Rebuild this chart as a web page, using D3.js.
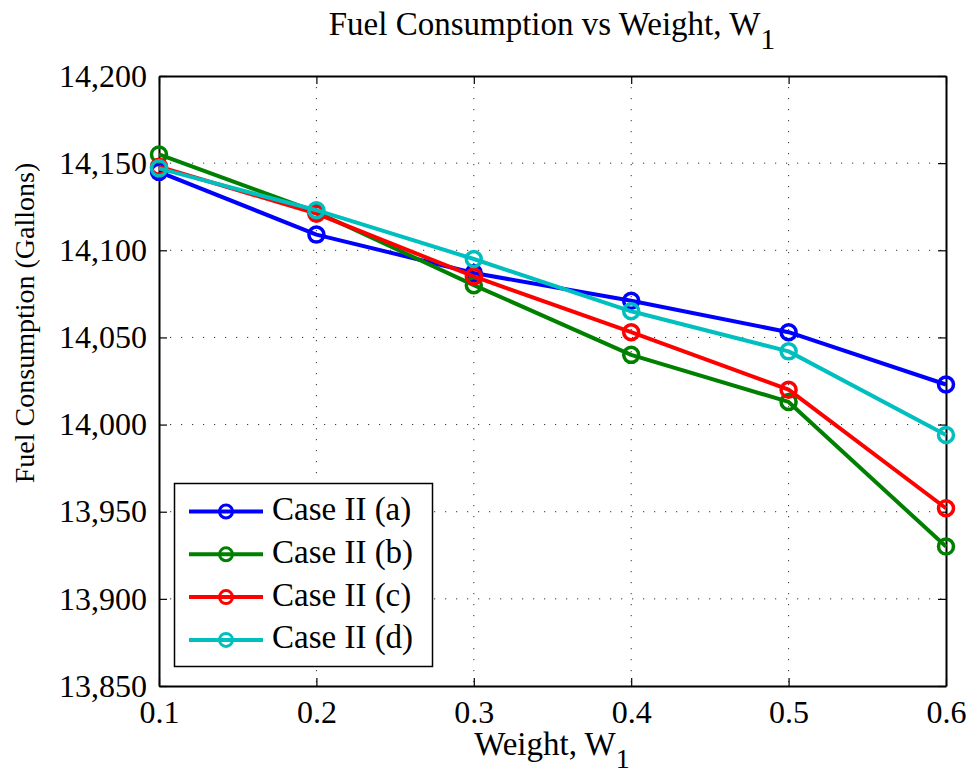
<!DOCTYPE html>
<html><head><meta charset="utf-8">
<script src="https://cdn.jsdelivr.net/npm/d3@7"></script>
<style>body{margin:0;background:#fff;} text{font-family:"Liberation Serif","Times New Roman",serif;fill:#000;}</style>
</head><body>
<svg id="c" width="972" height="775"></svg>
<script>
const weights = [0.1, 0.2, 0.3, 0.4, 0.5, 0.6];
const seriesNames = ["Case II (a)", "Case II (b)", "Case II (c)", "Case II (d)"];
const seriesColors = ["#0000ff", "#008000", "#ff0000", "#00bfbf"];
const caseA = [14145, 14109, 14087, 14071, 14053, 14023];
const caseB = [14155, 14122, 14080, 14040, 14013, 13930];
const caseC = [14148, 14121, 14085, 14053, 14020, 13952];
const caseD = [14147, 14123, 14095, 14065, 14042, 13994];
const seriesValues = [caseA, caseB, caseC, caseD];
const xTicks = [0.1, 0.2, 0.3, 0.4, 0.5, 0.6];
const yTicks = [13850, 13900, 13950, 14000, 14050, 14100, 14150, 14200];

const m = {left:159, right:946, top:76, bottom:686};
const svg = d3.select("#c");
const x = d3.scaleLinear().domain([0.1,0.6]).range([m.left,m.right]);
const y = d3.scaleLinear().domain([13850,14200]).range([m.bottom,m.top]);
const fmt = d3.format(",");

// grid
const g = svg.append("g");
g.selectAll(".gx").data(xTicks.slice(1,-1)).join("line")
  .attr("x1",d=>x(d)).attr("x2",d=>x(d)).attr("y1",m.top).attr("y2",m.bottom)
  .attr("stroke","#333").attr("stroke-width",1).attr("stroke-dasharray","1.2,9.8");
g.selectAll(".gy").data(yTicks.slice(1,-1)).join("line")
  .attr("y1",d=>y(d)).attr("y2",d=>y(d)).attr("x1",m.left).attr("x2",m.right)
  .attr("stroke","#333").attr("stroke-width",1).attr("stroke-dasharray","1.2,9.8");

// axes
const tickLen = 8;
const axB = d3.axisBottom(x).tickValues(xTicks).tickSizeInner(-tickLen).tickSizeOuter(0).tickPadding(14).tickFormat(d3.format(".1f"));
const axT = d3.axisTop(x).tickValues(xTicks).tickSizeInner(-tickLen).tickSizeOuter(0).tickFormat("");
const axL = d3.axisLeft(y).tickValues(yTicks).tickSizeInner(-tickLen).tickSizeOuter(0).tickPadding(12).tickFormat(fmt);
const axR = d3.axisRight(y).tickValues(yTicks).tickSizeInner(-tickLen).tickSizeOuter(0).tickFormat("");
function styleAx(sel){
  sel.select(".domain").attr("stroke","#000").attr("stroke-width",2);
  sel.selectAll(".tick line").attr("stroke","#000").attr("stroke-width",1.2);
  sel.selectAll(".tick text").attr("font-size",32).attr("fill","#000");
}
svg.append("g").attr("transform",`translate(0,${m.bottom})`).call(axB).call(styleAx);
svg.append("g").attr("transform",`translate(0,${m.top})`).call(axT).call(styleAx);
svg.append("g").attr("transform",`translate(${m.left},0)`).call(axL).call(styleAx);
svg.append("g").attr("transform",`translate(${m.right},0)`).call(axR).call(styleAx);

// lines
const line = d3.line().x((d,i)=>x(weights[i])).y(d=>y(d));
seriesValues.forEach((vals,k)=>{
  const s = svg.append("g");
  s.append("path").datum(vals).attr("d",line).attr("fill","none")
    .attr("stroke",seriesColors[k]).attr("stroke-width",4).attr("stroke-linejoin","round");
  s.selectAll("circle").data(vals).join("circle")
    .attr("cx",(d,i)=>x(weights[i])).attr("cy",d=>y(d)).attr("r",7.5)
    .attr("fill","none").attr("stroke",seriesColors[k]).attr("stroke-width",3.5);
});

// legend
const lg = svg.append("g");
lg.append("rect").attr("x",174.5).attr("y",483.5).attr("width",258).attr("height",183)
  .attr("fill","#fff").attr("stroke","#000").attr("stroke-width",1.5);
seriesNames.forEach((n,k)=>{
  const yy = 511.5 + k*42.8;
  lg.append("line").attr("x1",189).attr("x2",263).attr("y1",yy).attr("y2",yy)
    .attr("stroke",seriesColors[k]).attr("stroke-width",4);
  lg.append("circle").attr("cx",226).attr("cy",yy).attr("r",6.5).attr("fill","none")
    .attr("stroke",seriesColors[k]).attr("stroke-width",3);
  lg.append("text").attr("x",272).attr("y",yy+8.5).attr("font-size",33).text(n);
});

// title
const t = svg.append("text").attr("x",552).attr("y",35).attr("text-anchor","middle").attr("font-size",33);
t.append("tspan").text("Fuel Consumption vs Weight, W");
t.append("tspan").attr("dy",14).attr("font-size",30).text("1");
// x label
const xl = svg.append("text").attr("x",552).attr("y",755).attr("text-anchor","middle").attr("font-size",33);
xl.append("tspan").text("Weight, W");
xl.append("tspan").attr("dy",13).attr("font-size",28).text("1");
// y label
svg.append("text").attr("transform",`translate(34,323) rotate(-90)`).attr("text-anchor","middle")
  .attr("font-size",28).text("Fuel Consumption (Gallons)");
</script>
</body></html>
